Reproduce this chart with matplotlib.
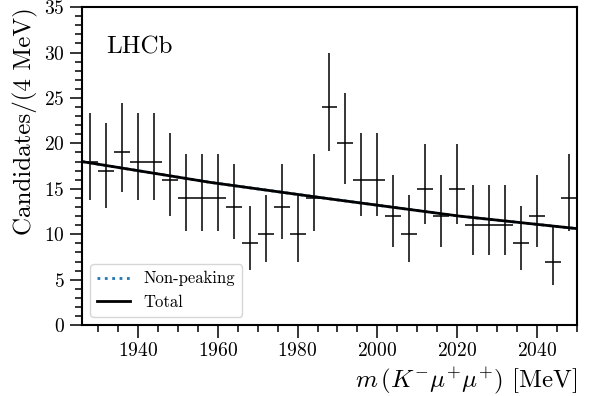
import numpy as np
from matplotlib import pyplot as plt
from matplotlib.ticker import MultipleLocator

plt.rcParams['font.family'] = 'serif'
plt.rcParams['font.serif'] = ['cmr10']
plt.rcParams['mathtext.fontset'] = 'cm'
plt.rcParams['axes.formatter.use_mathtext'] = True

# binned data, 4 MeV bins
bin_centers = [1928, 1932, 1936, 1940, 1944, 1948, 1952, 1956, 1960, 1964,
               1968, 1972, 1976, 1980, 1984, 1988, 1992, 1996, 2000, 2004,
               2008, 2012, 2016, 2020, 2024, 2028, 2032, 2036, 2040, 2044, 2048]
counts = [18, 17, 19, 18, 18, 16, 14, 14, 14, 13,
          9, 10, 13, 10, 14, 24, 20, 16, 16, 12,
          10, 15, 12, 15, 11, 11, 11, 9, 12, 7, 14]

# fitted model
fit_mass = [1926, 1958, 1988, 2020.5, 2050]
fit_total = [18.0, 15.72, 13.9, 12.0, 10.62]
fit_nonpeak = fit_total

# Poisson (Gehrels) errors for the counts
n = np.array(counts, dtype=float)
err_hi = np.sqrt(n + 0.75) + 1
err_lo = n - n * (1 - 1 / (9 * n) - 1 / (3 * np.sqrt(n))) ** 3

fig = plt.figure(figsize=(5.98, 3.96), dpi=100)
ax = fig.add_axes([0.137, 0.179, 0.828, 0.803])

ax.errorbar(bin_centers, counts, xerr=2, yerr=[err_lo, err_hi], fmt='none',
            ecolor='black', elinewidth=1.1, capsize=0)
ax.plot(fit_mass, fit_nonpeak, ':', color='tab:blue', lw=2, label='Non-peaking')
ax.plot(fit_mass, fit_total, '-', color='black', lw=2, label='Total')

ax.set_xlim(1926, 2050)
ax.set_ylim(0, 35)
ax.xaxis.set_major_locator(MultipleLocator(20))
ax.xaxis.set_minor_locator(MultipleLocator(5))
ax.yaxis.set_major_locator(MultipleLocator(5))
ax.yaxis.set_minor_locator(MultipleLocator(1))
ax.tick_params(which='major', length=9, width=1.1, labelsize=14)
ax.tick_params(which='minor', length=5, width=1.1)
for s in ax.spines.values():
    s.set_linewidth(1.5)

ax.set_xlabel(r'$m\,(K^{-}\mu^{+}\mu^{+})$ [MeV]', fontsize=18, loc='right')
ax.set_ylabel('Candidates/(4 MeV)', fontsize=18, loc='top')
ax.text(0.05, 0.855, 'LHCb', transform=ax.transAxes, fontsize=18)
ax.legend(loc='lower left', fontsize=12)

fig.savefig('out.png', dpi=100)
